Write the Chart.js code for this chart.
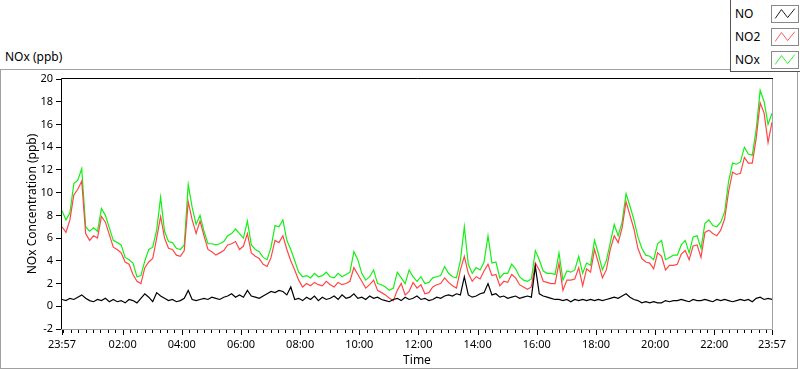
<!DOCTYPE html>
<html>
<head>
<meta charset="utf-8">
<script src="https://cdn.jsdelivr.net/npm/chart.js@4.4.1/dist/chart.umd.min.js"></script>
<style>
    html, body { margin: 0; padding: 0; background: #fff; }
    #wrap { position: relative; width: 800px; height: 369px; overflow: hidden; font-family: "Noto Sans", sans-serif; color: #000; }
    #frame { position: absolute; left: 0; top: 69px; width: 798px; height: 300px; border: 1px solid #a0a0a0; box-sizing: border-box; }
    #chartTitle { position: absolute; left: 5px; top: 49px; font-size: 12px; line-height: 16px; }
    #chart { position: absolute; left: 0; top: 0; }
    #legend { position: absolute; left: 730px; top: 0; width: 70px; height: 72px; border: 1px solid #555; border-top: none; border-right: none; box-sizing: border-box; background: #fff; }
    .row { position: absolute; left: 4px; height: 18px; width: 64px; }
    .row span { position: absolute; left: 0; top: 0; font-size: 12px; line-height: 18px; }
    .row svg { position: absolute; left: 36px; top: 0; width: 28px; height: 18px; border: 1px solid #888; box-sizing: border-box; background: #fff; }
</style>
</head>
<body>
<div id="wrap">
    <div id="frame"></div>
    <div id="chartTitle">NOx (ppb)</div>
    <canvas id="chart" width="800" height="369"></canvas>
    <div id="legend"></div>
</div>
<script>
// Muestras cada 8 minutos desde las 23:57 (0) hasta las 23:57 del dia siguiente (1440)
const sampleStep = 8;

const no = [
    0.6, 0.5, 0.7, 0.6, 0.8, 1.0, 0.7, 0.5, 0.4, 0.6, 0.5, 0.7, 0.4, 0.6, 0.4, 0.5, 0.3, 0.6, 0.5, 0.3,
    0.7, 1.1, 0.8, 0.4, 1.2, 0.9, 0.7, 0.5, 0.6, 0.4, 0.5, 0.7, 1.4, 0.6, 0.5, 0.6, 0.7, 0.6, 0.8, 0.7,
    0.6, 0.8, 0.9, 1.1, 0.8, 1.0, 0.8, 1.4, 0.9, 0.8, 0.7, 0.9, 1.1, 1.3, 1.2, 1.4, 1.3, 1.0, 1.7, 0.6,
    0.7, 0.5, 0.8, 0.6, 0.9, 0.5, 0.8, 0.6, 0.7, 0.9, 0.6, 1.0, 0.7, 0.8, 1.1, 0.7, 0.8, 0.6, 0.9, 0.7,
    0.8, 0.6, 0.5, 0.4, 0.6, 0.7, 0.5, 0.8, 0.6, 0.7, 0.9, 0.6, 0.7, 0.5, 0.6, 0.8, 0.7, 0.9, 1.0, 0.9,
    1.1, 1.0, 2.6, 1.0, 0.8, 0.9, 1.1, 1.2, 2.0, 1.0, 1.1, 0.8, 0.9, 0.7, 0.8, 0.9, 0.7, 0.8, 0.9, 0.8,
    3.5, 1.1, 0.9, 0.8, 0.7, 0.6, 0.6, 0.5, 0.6, 0.4, 0.6, 0.5, 0.6, 0.5, 0.6, 0.5, 0.6, 0.5, 0.6, 0.7,
    0.8, 0.7, 0.9, 1.1, 0.8, 0.6, 0.5, 0.3, 0.4, 0.3, 0.4, 0.3, 0.3, 0.5, 0.4, 0.5, 0.5, 0.6, 0.5, 0.4,
    0.6, 0.5, 0.5, 0.6, 0.5, 0.4, 0.6, 0.5, 0.6, 0.5, 0.4, 0.5, 0.6, 0.5, 0.6, 0.4, 0.7, 0.8, 0.6, 0.7,
    0.6
];

const no2 = [
    7.0, 6.5, 7.6, 9.8, 10.3, 11.0, 6.4, 5.8, 6.2, 6.0, 7.9, 7.4, 6.3, 5.2, 5.0, 4.7, 3.9, 3.7, 2.8, 2.2,
    2.0, 3.4, 3.9, 4.2, 6.0, 7.9, 6.0, 5.1, 5.0, 4.5, 4.4, 4.9, 9.2, 7.6, 6.4, 7.5, 6.2, 5.0, 4.8, 4.5,
    4.7, 4.9, 5.4, 5.5, 5.7, 5.0, 5.3, 6.4, 4.7, 4.4, 4.2, 3.7, 3.5, 4.3, 5.8, 5.6, 6.2, 5.0, 4.0, 3.2,
    2.3, 1.7, 2.0, 1.8, 2.1, 1.9, 1.8, 2.2, 1.9, 1.7, 2.1, 1.9, 2.0, 2.2, 3.4, 2.8, 2.2, 1.6, 1.9, 2.3,
    1.4, 1.2, 1.0, 0.7, 0.5, 1.4, 2.0, 1.0, 1.3, 2.1, 1.6, 1.9, 1.1, 1.2, 1.7, 1.9, 2.0, 2.5, 2.1, 1.8,
    1.6, 3.2, 4.4, 2.9, 2.2, 2.6, 2.4, 3.1, 3.7, 2.7, 2.8, 1.8, 2.2, 2.1, 2.8, 2.5, 1.9, 1.7, 1.5, 1.7,
    3.8, 3.2, 2.2, 2.1, 2.0, 2.0, 3.8, 1.4, 2.3, 2.3, 2.4, 3.4, 1.8, 3.3, 3.0, 5.0, 3.8, 2.5, 3.2, 5.0,
    6.2, 5.6, 6.9, 9.2, 8.0, 6.8, 5.1, 4.2, 3.9, 3.8, 3.3, 4.7, 4.4, 3.2, 3.6, 3.6, 3.7, 4.6, 4.9, 4.1,
    5.3, 5.4, 4.3, 6.5, 6.7, 6.4, 6.2, 6.7, 7.7, 10.1, 11.8, 11.6, 11.7, 13.1, 12.6, 12.6, 14.8, 17.9, 17.0, 14.4,
    16.2
];

const nox = [
    8.4, 7.6, 8.2, 10.8, 11.1, 12.1, 7.0, 6.6, 6.9, 6.6, 8.6, 8.0, 6.9, 5.8, 5.6, 5.4, 4.3, 4.1, 3.8, 2.6,
    2.7, 4.0, 5.0, 5.2, 6.7, 9.6, 6.6, 5.7, 5.6, 5.1, 5.0, 5.4, 10.7, 8.7, 7.2, 8.0, 6.6, 5.5, 5.5, 5.4,
    5.5, 5.7, 6.2, 6.4, 6.8, 6.4, 6.0, 7.5, 5.4, 5.0, 4.8, 4.3, 4.1, 5.2, 7.1, 7.0, 7.6, 5.8, 5.0, 4.0,
    3.0, 2.6, 2.7, 2.5, 2.9, 2.6, 2.7, 3.0, 2.6, 2.5, 2.9, 2.6, 2.8, 3.0, 4.8, 4.1, 2.9, 2.3, 2.6, 3.2,
    2.0, 1.9, 1.7, 1.4, 1.6, 3.0, 2.5, 2.0, 3.2, 2.6, 2.2, 2.6, 2.0, 2.1, 2.5, 2.6, 2.7, 3.5, 2.9, 2.6,
    2.5, 4.0, 7.0, 3.7, 2.9, 3.4, 3.2, 3.9, 6.2, 3.8, 3.9, 2.5, 2.9, 2.9, 3.7, 3.3, 2.6, 2.3, 2.2, 2.4,
    4.9, 4.1, 3.1, 2.9, 2.9, 2.8, 4.7, 2.3, 3.1, 3.0, 3.2, 4.4, 2.9, 3.8, 3.6, 5.8, 4.6, 3.2, 4.0, 5.6,
    7.2, 6.2, 7.4, 9.9, 8.8, 7.6, 6.1, 5.1, 4.5, 4.4, 4.1, 5.5, 5.8, 4.1, 4.3, 4.5, 4.5, 5.4, 5.8, 4.7,
    6.1, 6.2, 5.1, 7.3, 7.6, 7.1, 7.0, 7.4, 8.3, 11.0, 12.6, 12.5, 12.7, 14.0, 13.4, 13.3, 15.6, 19.0, 18.0, 16.0,
    17.0
];

// Etiquetas del eje de tiempo y del eje Y
const timeLabels = ['23:57', '02:00', '04:00', '06:00', '08:00', '10:00', '12:00', '14:00', '16:00', '18:00', '20:00', '22:00', '23:57'];
const yLabels = [-2, 0, 2, 4, 6, 8, 10, 12, 14, 16, 18, 20];

const seriesNames = ['NO', 'NO2', 'NOx'];
const seriesColors = ['#000000', '#ff4646', '#14f014'];

// Minutos transcurridos desde las 23:57 para cada etiqueta
function labelMinutes(label, i) {
    if (i === 0) return 0;
    if (i === timeLabels.length - 1) return 1440;
    const [h, m] = label.split(':').map(Number);
    return (h * 60 + m - (23 * 60 + 57) + 1440) % 1440;
}
const labelPositions = timeLabels.map(labelMinutes);

// Marcas menores cada cuarto de hora
const quarterTicks = [0, 1440];
for (let t = 3; t < 1440; t += 15) quarterTicks.push(t);

function toPoints(values) {
    return values.map((v, i) => ({ x: i * sampleStep, y: v }));
}

const baseFont = { family: '"Noto Sans", sans-serif', size: 11 };

// Marcas del eje X y borde del area del grafico
const plotFrame = {
    id: 'plotFrame',
    afterDraw(chart) {
        const { ctx, chartArea: a, scales: { x } } = chart;
        ctx.save();
        ctx.lineWidth = 1;
        ctx.strokeStyle = '#000';
        ctx.beginPath();
        quarterTicks.forEach(t => {
            const px = Math.round(x.getPixelForValue(t)) + 0.5;
            const len = labelPositions.includes(t) ? 5 : 3;
            ctx.moveTo(px, a.bottom + 1);
            ctx.lineTo(px, a.bottom + 1 + len);
        });
        ctx.stroke();

        // borde superior e izquierdo oscuro
        ctx.beginPath();
        ctx.moveTo(a.left - 0.5, a.bottom);
        ctx.lineTo(a.left - 0.5, a.top - 0.5);
        ctx.lineTo(a.right + 1, a.top - 0.5);
        ctx.stroke();
        // borde inferior y derecho gris
        ctx.strokeStyle = '#a0a0a0';
        ctx.beginPath();
        ctx.moveTo(a.left - 1, a.bottom + 0.5);
        ctx.lineTo(a.right + 0.5, a.bottom + 0.5);
        ctx.lineTo(a.right + 0.5, a.top);
        ctx.stroke();
        ctx.restore();
    }
};

new Chart(document.getElementById('chart'), {
    type: 'line',
    data: {
        datasets: [no, no2, nox].map((vals, i) => ({
            label: seriesNames[i],
            data: toPoints(vals),
            borderColor: seriesColors[i],
            backgroundColor: seriesColors[i],
            borderWidth: 1.2,
            pointRadius: 0,
            tension: 0,
            fill: false
        }))
    },
    options: {
        responsive: false,
        animation: false,
        layout: { padding: { top: 79, right: 28, left: 0, bottom: 0 } },
        plugins: {
            legend: { display: false },
            tooltip: { enabled: false }
        },
        scales: {
            x: {
                type: 'linear',
                min: 0,
                max: 1440,
                afterFit: function(scale) { scale.height = 40; },
                afterBuildTicks: function(scale) {
                    scale.ticks = labelPositions.map(v => ({ value: v }));
                },
                grid: { display: false, drawTicks: false },
                border: { display: false },
                ticks: {
                    autoSkip: false,
                    maxRotation: 0,
                    padding: 9,
                    color: '#000',
                    font: baseFont,
                    callback: function(value) {
                        const i = labelPositions.indexOf(value);
                        return i >= 0 ? timeLabels[i] : '';
                    }
                },
                title: {
                    display: true,
                    text: 'Time',
                    color: '#000',
                    font: { family: '"Noto Sans", sans-serif', size: 12 },
                    padding: { top: 0, bottom: 1 }
                }
            },
            y: {
                min: -2,
                max: 20,
                afterFit: function(scale) { scale.width = 62; },
                afterBuildTicks: function(scale) {
                    scale.ticks = yLabels.map(v => ({ value: v }));
                },
                grid: { drawOnChartArea: false, drawTicks: true, tickLength: 6, tickColor: '#000' },
                border: { display: false },
                ticks: {
                    padding: 3,
                    color: '#000',
                    font: baseFont
                },
                title: {
                    display: true,
                    text: 'NOx Concentration (ppb)',
                    color: '#000',
                    font: { family: '"Noto Sans", sans-serif', size: 12 },
                    padding: { top: 25 }
                }
            }
        }
    },
    plugins: [plotFrame]
});

// Leyenda en la esquina superior derecha
const legend = document.getElementById('legend');
seriesNames.forEach((name, i) => {
    const row = document.createElement('div');
    row.className = 'row';
    row.style.top = (5 + i * 23) + 'px';
    row.innerHTML = '<span>' + name + '</span>' +
        '<svg viewBox="0 0 28 18"><polyline points="3,14 10,4 17,13 25,3" fill="none" stroke="' +
        seriesColors[i] + '" stroke-width="1"/></svg>';
    legend.appendChild(row);
});
</script>
</body>
</html>
